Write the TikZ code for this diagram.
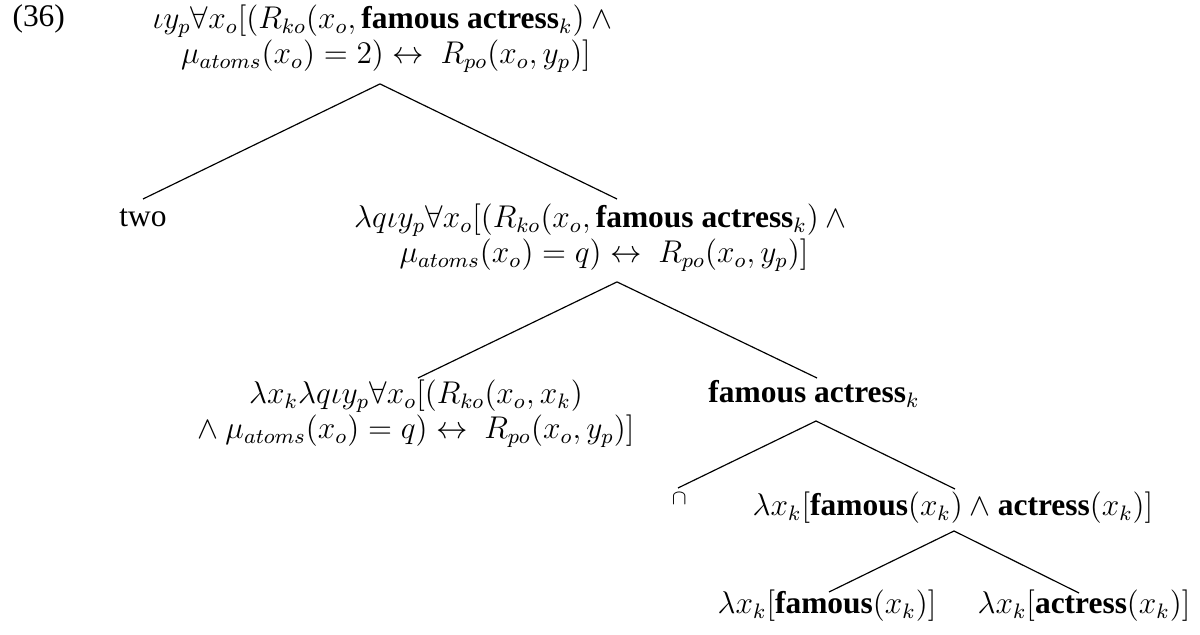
\documentclass[tikz,border=0pt]{standalone}
\usepackage[no-math]{fontspec}
\setmainfont{Liberation Serif}
\newfontfamily\plainrm{Liberation Serif}[Scale=1.001]
\usetikzlibrary{calc}
\begin{document}
\begin{tikzpicture}[x=0.3817pt,y=-0.3817pt,
  lab/.style={inner sep=0pt, font=\fontsize{12}{13.4}\selectfont},
  plain/.style={lab, font=\fontsize{12}{13.4}\plainrm},
  twoline/.style={lab, align=center, anchor=north},
  oneline/.style={lab, anchor=base},
  branch/.style={line width=0.45pt, line join=miter}]
\useasboundingbox (0,0) rectangle (1200,635);

% example number
\node[plain, anchor=base west] (ex) at (12,27) {(36)};

% tree nodes
\node[twoline] (root) at (386,4.4)
  {$\iota y_p\forall x_o[(R_{ko}(x_o,\textbf{famous actress}_k)\wedge{}$\\
   $\mu_{atoms}(x_o)=2)\leftrightarrow\ R_{po}(x_o,y_p)]$};
\node[plain, anchor=base] (two) at (143,227) {two};
\node[twoline] (n2) at (604,203.4)
  {$\lambda q\iota y_p\forall x_o[(R_{ko}(x_o,\textbf{famous actress}_k)\wedge{}$\\
   $\mu_{atoms}(x_o)=q)\leftrightarrow\ R_{po}(x_o,y_p)]$};
\node[twoline] (n3) at (416,379.4)
  {$\lambda x_k\lambda q\iota y_p\forall x_o[(R_{ko}(x_o,x_k)$\\
   $\wedge\:\mu_{atoms}(x_o)=q)\leftrightarrow\ R_{po}(x_o,y_p)]$};
\node[oneline] (fa) at (814,403) {\textbf{famous actress}$_k$};
\node[oneline] (cap) at (680,516) {$^\cap$};
\node[oneline] (n4) at (953,516)
  {$\lambda x_k[\textbf{famous}(x_k)\wedge\textbf{actress}(x_k)]$};
\node[oneline] (fm) at (827,614) {$\lambda x_k[\textbf{famous}(x_k)]$};
\node[oneline] (ac) at (1084,614) {$\lambda x_k[\textbf{actress}(x_k)]$};

% branches
\draw[branch] ($(two.base)+(0,-28)$) -- ($(root.south)+(-6,11)$) -- ($(n2.north)+(13,-4.4)$);
\draw[branch] ($(n3.north)+(2,-1.4)$) -- ($(n2.south)+(13,10)$) -- ($(fa.base)+(3,-25)$);
\draw[branch] ($(cap.base)+(-2,-28)$) -- ($(fa.base)+(2,18)$) -- ($(n4.base)+(2,-27)$);
\draw[branch] ($(fm.base)+(2,-22)$) -- ($(n4.base)+(1,15)$) -- ($(ac.base)+(-5,-21)$);
\end{tikzpicture}
\end{document}
